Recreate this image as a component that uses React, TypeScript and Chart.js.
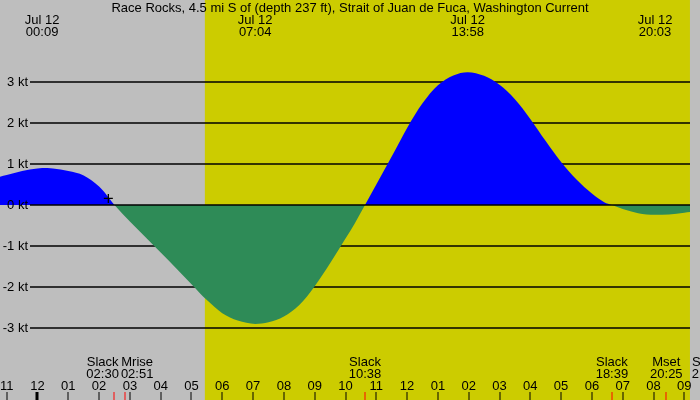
import { useEffect, useRef } from 'react';
import { Chart, registerables } from 'chart.js';

Chart.register(...registerables);

const stationTitle =
  'Race Rocks, 4.5 mi S of (depth 237 ft), Strait of Juan de Fuca, Washington Current';
const dateLabel = 'Jul 12';

// Hours after midnight, Jul 12, and current speed in knots (flood +, ebb -)
const sampleHours = [
  -1.5, -1.0, -0.5, 0.0, 0.15, 0.5, 1.0, 1.5, 2.0, 2.25, 2.5,
  3.0, 3.5, 4.0, 4.5, 5.0, 5.5, 6.0, 6.5, 7.07, 7.5, 8.0, 8.5, 9.0, 9.5, 10.0, 10.3, 10.633,
  11.0, 11.5, 12.0, 12.5, 13.0, 13.5, 13.967, 14.5, 15.0, 15.5, 16.0, 16.5, 17.0, 17.5, 18.0, 18.4, 18.65,
  19.0, 19.5, 20.05, 20.5, 21.0, 21.5, 21.767,
];
const currentKnots = [
  0.64, 0.73, 0.83, 0.89, 0.9, 0.89, 0.83, 0.72, 0.45, 0.24, 0,
  -0.4, -0.78, -1.16, -1.54, -1.93, -2.32, -2.64, -2.82, -2.9, -2.86, -2.72, -2.44, -1.98, -1.42, -0.82, -0.45, 0,
  0.5, 1.18, 1.88, 2.48, 2.92, 3.16, 3.24, 3.15, 2.93, 2.58, 2.1, 1.56, 1.05, 0.62, 0.28, 0.07, 0,
  -0.1, -0.2, -0.24, -0.23, -0.19, -0.12, 0,
];

// Times of maximum flood / ebb shown along the top
const extremeTimes = ['00:09', '07:04', '13:58', '20:03'];

// Slack water and moon events shown along the bottom
const eventNames = ['Slack', 'Mrise', 'Slack', 'Slack', 'Mset', 'Slack'];
const eventTimes = ['02:30', '02:51', '10:38', '18:39', '20:25', '21:46'];

const sunriseTime = '05:26';
const sunsetTime = '21:11';

const knotLevels = [3, 2, 1, 0, -1, -2, -3];

const hourTicks = [-1, 0, 1, 2, 3, 4, 5, 6, 7, 8, 9, 10, 11, 12, 13, 14, 15, 16, 17, 18, 19, 20, 21];
const hourLabels = [
  '11', '12', '01', '02', '03', '04', '05', '06', '07', '08', '09', '10',
  '11', '12', '01', '02', '03', '04', '05', '06', '07', '08', '09',
];

// Present-time marker on the curve
const nowHour = 2.3;
const nowKnots = 0.16;

const NIGHT = '#bebebe';
const DAY = '#cccc00';
const FLOOD = '#0000ff';
const EBB = '#2e8b57';
const FONT = '13px "Liberation Sans", Arial, Helvetica, sans-serif';

const toHours = (t: string) => {
  const [h, m] = t.split(':').map(Number);
  return h + m / 60;
};

const tideDecor = {
  id: 'tideDecor',
  beforeDraw(chart: any) {
    const { ctx, width, height, chartArea, scales } = chart;
    const xs = scales.x;
    const ys = scales.y;
    ctx.save();
    ctx.fillStyle = NIGHT;
    ctx.fillRect(0, 0, width, height);
    const dayStart = xs.getPixelForValue(toHours(sunriseTime));
    const dayEnd = Math.min(xs.getPixelForValue(toHours(sunsetTime)), chartArea.right);
    ctx.fillStyle = DAY;
    ctx.fillRect(dayStart, 0, dayEnd - dayStart, height);

    ctx.strokeStyle = '#000';
    ctx.lineWidth = 1.5;
    for (const k of knotLevels) {
      if (k === 0) continue;
      const py = ys.getPixelForValue(k);
      ctx.beginPath();
      ctx.moveTo(30, py);
      ctx.lineTo(chartArea.right, py);
      ctx.stroke();
    }
    ctx.restore();
  },
  afterDatasetsDraw(chart: any) {
    const { ctx, width, chartArea, scales } = chart;
    const xs = scales.x;
    const ys = scales.y;
    ctx.save();
    ctx.strokeStyle = '#000';
    ctx.fillStyle = '#000';

    // zero line over the fill
    const zy = ys.getPixelForValue(0);
    ctx.lineWidth = 1.5;
    ctx.beginPath();
    ctx.moveTo(30, zy);
    ctx.lineTo(chartArea.right, zy);
    ctx.stroke();

    // present-time cross
    const cx = xs.getPixelForValue(nowHour);
    const cy = ys.getPixelForValue(nowKnots);
    ctx.lineWidth = 1.3;
    ctx.beginPath();
    ctx.moveTo(cx - 4.5, cy);
    ctx.lineTo(cx + 4.5, cy);
    ctx.moveTo(cx, cy - 4.5);
    ctx.lineTo(cx, cy + 4.5);
    ctx.stroke();

    ctx.font = FONT;
    ctx.textBaseline = 'alphabetic';

    // knot labels
    ctx.textAlign = 'right';
    for (const k of knotLevels) {
      ctx.fillText(`${k} kt`, 28, ys.getPixelForValue(k) + 4);
    }

    // title
    ctx.textAlign = 'center';
    ctx.fillText(stationTitle, width / 2, 12);

    // extremes
    for (const t of extremeTimes) {
      const px = xs.getPixelForValue(toHours(t));
      ctx.fillText(dateLabel, px, 24);
      ctx.fillText(t, px, 36);
    }

    // hour ticks
    hourTicks.forEach((h, i) => {
      const px = xs.getPixelForValue(h);
      ctx.fillText(hourLabels[i], px, 389.5);
      if (h === 0) {
        ctx.fillRect(Math.round(px) - 1.5, 392, 3, 8);
      } else {
        ctx.fillRect(Math.round(px) - 0.5, 392, 1, 8);
      }
    });

    // event ticks and labels
    const evs = eventTimes.map((t, i) => {
      const px = xs.getPixelForValue(toHours(t));
      const w = Math.max(ctx.measureText(eventNames[i]).width, ctx.measureText(t).width);
      return { px, cx: px, w, name: eventNames[i], time: t };
    });
    for (let i = 0; i + 1 < evs.length; i++) {
      const a = evs[i];
      const b = evs[i + 1];
      const gap = a.cx + a.w / 2 + 2 - (b.cx - b.w / 2);
      if (gap > 0) {
        a.cx -= gap / 2;
        b.cx += gap / 2;
      }
    }
    for (const e of evs) {
      ctx.fillStyle = '#ff0000';
      ctx.fillRect(Math.round(e.px) - 0.5, 392, 1, 8);
      ctx.fillStyle = '#000';
      ctx.fillText(e.name, e.cx, 366);
      ctx.fillText(e.time, e.cx, 378);
    }
    ctx.restore();
  },
};

export default function App() {
  const canvasRef = useRef<HTMLCanvasElement | null>(null);

  useEffect(() => {
    if (!canvasRef.current) return;
    const points = sampleHours.map((h, i) => ({ x: h, y: currentKnots[i] }));
    const chart = new Chart(canvasRef.current, {
      type: 'line',
      data: {
        datasets: [
          {
            data: points,
            borderWidth: 0,
            borderColor: 'rgba(0,0,0,0)',
            backgroundColor: FLOOD,
            pointRadius: 0,
            cubicInterpolationMode: 'monotone',
            fill: { target: 'origin', above: FLOOD, below: EBB },
          },
        ],
      },
      options: {
        animation: false,
        responsive: false,
        devicePixelRatio: 1,
        layout: { padding: { left: 0, right: 10, top: 0, bottom: 0 } },
        plugins: {
          legend: { display: false },
          tooltip: { enabled: false },
          title: { display: false },
        },
        scales: {
          x: { type: 'linear', min: -1.2175, max: 21.185, display: false },
          y: { type: 'linear', min: -4.7561, max: 5, display: false },
        },
      },
      plugins: [tideDecor],
    } as any);
    return () => chart.destroy();
  }, []);

  return (
    <div style={{ position: 'fixed', left: 0, top: 0, width: 700, height: 400 }}>
      <canvas ref={canvasRef} width={700} height={400} style={{ display: 'block' }} />
    </div>
  );
}
